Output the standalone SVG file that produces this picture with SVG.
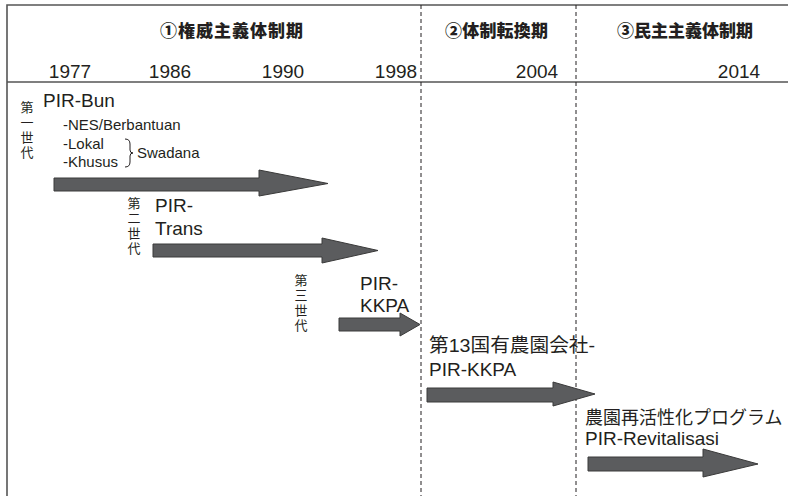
<svg xmlns="http://www.w3.org/2000/svg" width="788" height="496" viewBox="0 0 788 496">
<style>
.t{font-family:"Liberation Sans","Noto Sans CJK JP",Arial,sans-serif;fill:#231f20}
.h{font-size:17px;font-weight:900;font-family:"Noto Sans CJK JP","Liberation Sans",sans-serif;fill:#231f20}
.y{font-size:19px;text-anchor:middle}
.big{font-size:19px}
.sm{font-size:15px}
.v{font-size:13px;letter-spacing:2px;writing-mode:vertical-rl;font-family:"Noto Sans CJK JP",sans-serif;fill:#231f20}
.arrow{fill:#5b5c5e;stroke:#3a3a3a;stroke-width:1}
.frame{stroke:#555;stroke-width:1.6;fill:none}
.dash{stroke:#231f20;stroke-width:1;stroke-dasharray:4,3;fill:none}
</style>
<rect width="788" height="496" fill="#fff"/>
<g id="frame">
<path class="frame" d="M7,496 V5 H788"/>
<line class="frame" x1="7" y1="82" x2="788" y2="82"/>
<line class="dash" x1="421" y1="5" x2="421" y2="496"/>
<line class="dash" x1="576" y1="5" x2="576" y2="496"/>
</g>
<g id="header">
<text class="h" x="160" y="37" textLength="143">①権威主義体制期</text>
<text class="h" x="445" y="37" textLength="103">②体制転換期</text>
<text class="h" x="617" y="37" textLength="136">③民主主義体制期</text>
<text class="t y" x="70" y="78">1977</text>
<text class="t y" x="170" y="78">1986</text>
<text class="t y" x="283" y="78">1990</text>
<text class="t y" x="396" y="78">1998</text>
<text class="t y" x="537" y="78">2004</text>
<text class="t y" x="739" y="78">2014</text>
</g>
<g id="gen1">
<text class="v" x="27" y="101">第一世代</text>
<text class="t big" x="43" y="107">PIR-Bun</text>
<text class="t sm" x="63" y="130">-NES/Berbantuan</text>
<text class="t sm" x="63" y="149">-Lokal</text>
<text class="t sm" x="63" y="167">-Khusus</text>
<path d="M125,139 Q130,139 130,144 V150 Q130,153 133,153 Q130,153 130,156 V162 Q130,167 125,167" fill="none" stroke="#231f20" stroke-width="1"/>
<text class="t sm" x="137" y="158">Swadana</text>
</g>
<g id="gen2">
<text class="v" x="134" y="197">第二世代</text>
<text class="t big" x="155" y="212">PIR-</text>
<text class="t big" x="155" y="235">Trans</text>
</g>
<g id="gen3">
<text class="v" x="301" y="274">第三世代</text>
<text class="t big" x="360" y="290">PIR-</text>
<text class="t big" x="360" y="312">KKPA</text>
</g>
<g id="ptpn13">
<text class="t big" x="429" y="352" textLength="166" lengthAdjust="spacingAndGlyphs">第13国有農園会社-</text>
<text class="t big" x="429" y="376">PIR-KKPA</text>
</g>
<g id="revital">
<text class="t" style="font-size:18px" x="585" y="424">農園再活性化プログラム</text>
<text class="t big" x="585" y="445">PIR-Revitalisasi</text>
</g>
<g id="connectors">
<path class="arrow" d="M54,178 H259 V170 L328,183.5 L259,196 V191 H54 Z"/>
<path class="arrow" d="M153,244 H322 V238 L378,250.5 L322,263 V257 H153 Z"/>
<path class="arrow" d="M339,318 H400 V313 L420,324.5 L400,336 V331 H339 Z"/>
<path class="arrow" d="M427,388 H553 V382 L595,394 L553,406 V402 H427 Z"/>
<path class="arrow" d="M588,457 H703 V449 L758,464 L703,477 V471 H588 Z"/>
</g>
</svg>
